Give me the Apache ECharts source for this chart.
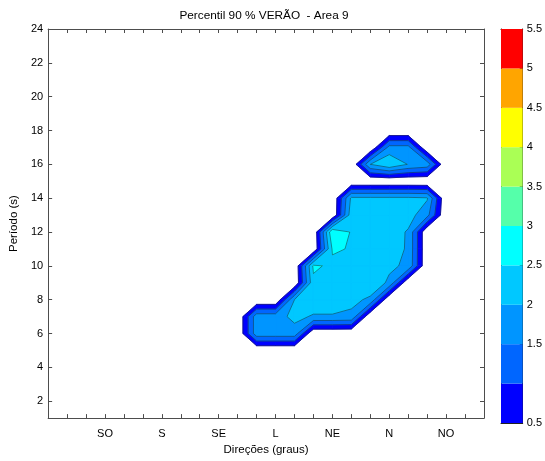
<!DOCTYPE html>
<html><head><meta charset="utf-8">
<script src="https://cdn.jsdelivr.net/npm/echarts@6/dist/echarts.min.js"></script>
<style>html,body{margin:0;padding:0;background:#fff}#c{width:545px;height:461px}</style>
</head><body><div id="c"></div>
<script>
// ---- chart data ----
const titleText = 'Percentil 90 % VERÃO  - Area 9';
const directionLabels = ['SO', 'S', 'SE', 'L', 'NE', 'N', 'NO'];
const directionPositions = [3, 6, 9, 12, 15, 18, 21];
const periodTicks = [2, 4, 6, 8, 10, 12, 14, 16, 18, 20, 22, 24];
const contourLevels = [0.5, 1, 1.5, 2, 2.5, 3, 3.5, 4, 4.5, 5, 5.5];
const colorbarTickValues = [0.5, 1.5, 2, 2.5, 3, 3.5, 4, 4.5, 5, 5.5];
const colorbarTickLabels = ['0.5', '1.5', '2', '2.5', '3', '3.5', '4', '4.5', '5', '5.5'];
const bandColors = ['#0000FF', '#0066FF', '#0095FF', '#00C8FF', '#00FFFF', '#55FFAA', '#AAFF55', '#FFFF00', '#FFA500', '#FF0000'];

// grid of the field (direction index x period)
const gridXs = [0,1,2,3,4,5,6,7,8,9,10,11,12,13,14,15,16,17,18,19,20,21,22,23];
const gridYs = [1,2,3,4,5,6,7,8,9,10,11,12,13,14,15,16,17,18,19,20,21,22,23,24];
// values at columns x = 10..21, zero elsewhere
const zColumns = [10, 11, 12, 13, 14, 15, 16, 17, 18, 19, 20, 21];
const zRow06 = [0, 1.8, 1.8, 1.8, 0, 0, 0, 0, 0, 0, 0, 0];
const zRow07 = [0, 1.8, 1.8, 2.13, 1.95, 1.95, 1.9, 0, 0, 0, 0, 0];
const zRow08 = [0, 0, 0, 2.0, 2.3, 2.3, 2.12, 1.92, 0, 0, 0, 0];
const zRow09 = [0, 0, 0, 0, 2.38, 2.4, 2.35, 2.3, 1.92, 0, 0, 0];
const zRow10 = [0, 0, 0, 0, 2.6, 2.39, 2.4, 2.3, 2.08, 1.92, 0, 0];
const zRow11 = [0, 0, 0, 0, 0, 2.56, 2.47, 2.35, 2.2, 1.95, 0, 0];
const zRow12 = [0, 0, 0, 0, 0, 2.95, 2.46, 2.35, 2.25, 1.95, 0, 0];
const zRow13 = [0, 0, 0, 0, 0, 0, 2.3, 2.35, 2.3, 2.21, 1.67, 0];
const zRow14 = [0, 0, 0, 0, 0, 0, 2.1, 2.1, 2.1, 2.1, 2.05, 0];
const zRow16 = [0, 0, 0, 0, 0, 0, 0, 2.0, 2.45, 1.98, 1.8, 0];
const zRow17 = [0, 0, 0, 0, 0, 0, 0, 0, 1.67, 1.67, 0, 0];
const zRowsByPeriod = {6: zRow06, 7: zRow07, 8: zRow08, 9: zRow09, 10: zRow10, 11: zRow11,
  12: zRow12, 13: zRow13, 14: zRow14, 16: zRow16, 17: zRow17};

// ---- filled contours (marching squares on the grid) ----
function zAt(x, y) {
  const r = zRowsByPeriod[y];
  if (!r) return 0;
  const k = zColumns.indexOf(x);
  return k < 0 ? 0 : r[k];
}
const fillPolys = [];
const contourSegs = [];
function cross(a, b, L) {
  const t = (L - a.z) / (b.z - a.z);
  return [a.x + t * (b.x - a.x), a.y + t * (b.y - a.y)];
}
for (let li = 0; li < contourLevels.length - 1; li++) {
  const L = contourLevels[li];
  const color = bandColors[li];
  for (let i = 0; i < gridXs.length - 1; i++) {
    for (let j = 0; j < gridYs.length - 1; j++) {
      const c = [
        {x: gridXs[i], y: gridYs[j]},
        {x: gridXs[i + 1], y: gridYs[j]},
        {x: gridXs[i + 1], y: gridYs[j + 1]},
        {x: gridXs[i], y: gridYs[j + 1]}
      ];
      c.forEach(p => { p.z = zAt(p.x, p.y); });
      const ab = c.map(p => p.z >= L);
      const n = ab.filter(v => v).length;
      if (n === 0) continue;
      const edgeX = [];
      for (let k = 0; k < 4; k++) {
        const a = c[k], b = c[(k + 1) % 4];
        edgeX.push(ab[k] !== ab[(k + 1) % 4] ? cross(a, b, L) : null);
      }
      const avg = (c[0].z + c[1].z + c[2].z + c[3].z) / 4;
      const saddle = n === 2 && ab[0] === ab[2] && ab[1] === ab[3];
      if (saddle && avg < L) {
        for (let k = 0; k < 4; k++) if (ab[k]) {
          fillPolys.push({pts: [edgeX[(k + 3) % 4], [c[k].x, c[k].y], edgeX[k]], color});
        }
      } else {
        const pts = [];
        for (let k = 0; k < 4; k++) {
          if (ab[k]) pts.push([c[k].x, c[k].y]);
          if (edgeX[k]) pts.push(edgeX[k]);
        }
        fillPolys.push({pts, color});
      }
      const xs = edgeX.filter(e => e);
      if (xs.length === 2) contourSegs.push(xs);
      else if (xs.length === 4) {
        const isolatedAbove = avg < L;
        for (let k = 0; k < 4; k++) if (ab[k] === isolatedAbove) {
          contourSegs.push([edgeX[(k + 3) % 4], edgeX[k]]);
        }
      }
    }
  }
}

const colorbarBands = bandColors.map((col, i) => [0, contourLevels[i], contourLevels[i + 1], i]);

const FONT = 'Liberation Sans, Arial, Helvetica, sans-serif';
const AX = '#4d4d4d';
const chart = echarts.init(document.getElementById('c'), null, {renderer: 'canvas'});
chart.setOption({
  animation: false,
  backgroundColor: '#fff',
  textStyle: {fontFamily: FONT},
  graphic: [{
    type: 'text', x: 264, y: 16,
    style: {text: titleText, textAlign: 'center', textVerticalAlign: 'middle',
      font: '11.8px ' + FONT, fill: '#000'}
  }],
  grid: [
    {left: 43, top: 29, width: 441, height: 394, show: false},
    {left: 501, top: 29, width: 23, height: 394, show: false}
  ],
  xAxis: [
    {type: 'value', gridIndex: 0, min: 0, max: 23, interval: 1, position: 'bottom',
      axisLine: {show: true, onZero: false, lineStyle: {color: AX, width: 1}},
      axisTick: {show: true, inside: true, length: 4, lineStyle: {color: AX}},
      axisLabel: {show: true, margin: 10, fontSize: 11, color: '#000', fontFamily: FONT,
        formatter: v => { const k = directionPositions.indexOf(v); return k >= 0 ? directionLabels[k] : ''; }},
      splitLine: {show: false},
      name: 'Direções (graus)', nameLocation: 'middle', nameGap: 25,
      nameTextStyle: {fontSize: 11.5, color: '#000', fontFamily: FONT}},
    {type: 'value', gridIndex: 0, min: 0, max: 23, interval: 1, position: 'top',
      axisLine: {show: true, onZero: false, lineStyle: {color: AX, width: 1}},
      axisTick: {show: true, inside: true, length: 4, lineStyle: {color: AX}},
      axisLabel: {show: false}, splitLine: {show: false}},
    {type: 'value', gridIndex: 1, min: 0, max: 1, position: 'bottom',
      axisLine: {show: true, onZero: false, lineStyle: {color: '#222'}},
      axisTick: {show: false}, axisLabel: {show: false}, splitLine: {show: false}},
    {type: 'value', gridIndex: 1, min: 0, max: 1, position: 'top',
      axisLine: {show: true, onZero: false, lineStyle: {color: '#222'}},
      axisTick: {show: false}, axisLabel: {show: false}, splitLine: {show: false}}
  ],
  yAxis: [
    {type: 'value', gridIndex: 0, min: 1, max: 24, position: 'left',
      axisLine: {show: true, onZero: false, lineStyle: {color: AX, width: 1}},
      axisTick: {show: true, inside: true, length: 4, customValues: periodTicks, lineStyle: {color: AX}},
      axisLabel: {show: true, margin: 5, fontSize: 11, color: '#000', fontFamily: FONT, customValues: periodTicks},
      splitLine: {show: false},
      name: 'Período (s)', nameLocation: 'middle', nameGap: 18, nameRotate: 90,
      nameTextStyle: {fontSize: 11.5, color: '#000', fontFamily: FONT}},
    {type: 'value', gridIndex: 0, min: 1, max: 24, position: 'right',
      axisLine: {show: true, onZero: false, lineStyle: {color: AX, width: 1}},
      axisTick: {show: true, inside: true, length: 4, customValues: periodTicks, lineStyle: {color: AX}},
      axisLabel: {show: false}, splitLine: {show: false}},
    {type: 'value', gridIndex: 1, min: 0.5, max: 5.5, interval: 0.5, position: 'right',
      axisLine: {show: true, onZero: false, lineStyle: {color: '#222'}},
      axisTick: {show: true, inside: true, length: 3, customValues: colorbarTickValues, lineStyle: {color: '#222'}},
      axisLabel: {show: true, margin: 4, fontSize: 11, color: '#000', fontFamily: FONT, customValues: colorbarTickValues,
        formatter: v => { const k = colorbarTickValues.findIndex(t => Math.abs(t - v) < 1e-6); return k >= 0 ? colorbarTickLabels[k] : ''; }},
      splitLine: {show: false}},
    {type: 'value', gridIndex: 1, min: 0.5, max: 5.5, position: 'left',
      axisLine: {show: true, onZero: false, lineStyle: {color: '#222'}},
      axisTick: {show: false}, axisLabel: {show: false}, splitLine: {show: false}}
  ],
  series: [
    {type: 'custom', xAxisIndex: 0, yAxisIndex: 0, z: 2, silent: true,
      data: fillPolys.map(p => p.pts[0]),
      renderItem: (params, api) => {
        const p = fillPolys[params.dataIndex];
        return {type: 'polygon', shape: {points: p.pts.map(q => api.coord(q))},
          style: {fill: p.color, stroke: p.color, lineWidth: 0.8}};
      }},
    {type: 'custom', xAxisIndex: 0, yAxisIndex: 0, z: 3, silent: true,
      data: contourSegs.map(s => s[0]),
      renderItem: (params, api) => {
        const s = contourSegs[params.dataIndex];
        return {type: 'polyline', shape: {points: s.map(q => api.coord(q))},
          style: {stroke: '#1a1a2a', lineWidth: 0.5, fill: null}};
      }},
    {type: 'custom', xAxisIndex: 2, yAxisIndex: 2, z: 2, silent: true,
      data: colorbarBands,
      renderItem: (params, api) => {
        const p1 = api.coord([0, api.value(2)]);
        const p2 = api.coord([1, api.value(1)]);
        return {type: 'rect', shape: {x: p1[0], y: p1[1], width: p2[0] - p1[0], height: p2[1] - p1[1]},
          style: {fill: bandColors[api.value(3)]}};
      }}
  ]
});
</script></body></html>
